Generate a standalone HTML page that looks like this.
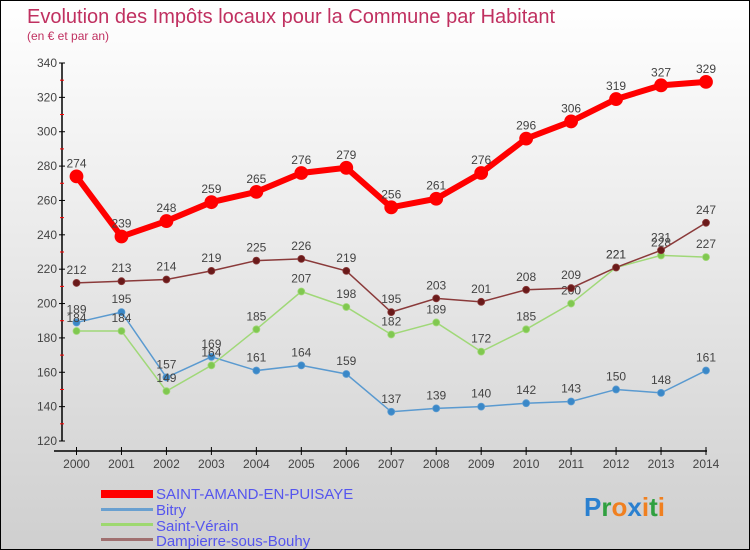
<!DOCTYPE html>
<html><head><meta charset="utf-8"><style>
body{margin:0}
#c{position:relative;width:750px;height:550px;box-sizing:border-box;border:1px solid #000;background:linear-gradient(#ffffff,#cfcfcf);font-family:"Liberation Sans",sans-serif;overflow:hidden}
</style></head><body>
<div id="c">
<svg id="s" width="750" height="550" style="position:absolute;left:0;top:0">
<text x="26" y="22" font-size="20" fill="#c03060">Evolution des Impôts locaux pour la Commune par Habitant</text>
<text x="26" y="39" font-size="12" fill="#c03060">(en € et par an)</text>
<g id="axes"></g><g id="series"></g>
<g>
<rect x="100" y="489" width="52" height="8" fill="#f00"/>
<text x="155" y="498" font-size="15" fill="#5555ee">SAINT-AMAND-EN-PUISAYE</text>
<rect x="100" y="507" width="52" height="3" fill="#6aa0d0"/>
<text x="155" y="514" font-size="15" fill="#5555ee">Bitry</text>
<rect x="100" y="522" width="52" height="3" fill="#9ed870"/>
<text x="155" y="530" font-size="15" fill="#5555ee">Saint-Vérain</text>
<rect x="100" y="537" width="52" height="3" fill="#a07070"/>
<text x="155" y="545" font-size="15" fill="#5555ee">Dampierre-sous-Bouhy</text>
</g>
<text x="583" y="515" font-size="26" font-weight="bold"><tspan fill="#2a80d0">P</tspan><tspan fill="#30a040">r</tspan><tspan fill="#f08020">o</tspan><tspan fill="#2a80d0">x</tspan><tspan fill="#f08020">i</tspan><tspan fill="#30a040">t</tspan><tspan fill="#f08020">i</tspan></text>
</svg>
</div>
<script>
const years=[2000,2001,2002,2003,2004,2005,2006,2007,2008,2009,2010,2011,2012,2013,2014];
const yTicks=[120,140,160,180,200,220,240,260,280,300,320,340];
const saintAmand=[274,239,248,259,265,276,279,256,261,276,296,306,319,327,329];
const bitry=[189,195,157,169,161,164,159,137,139,140,142,143,150,148,161];
const saintVerain=[184,184,149,164,185,207,198,182,189,172,185,200,221,228,227];
const dampierre=[212,213,214,219,225,226,219,195,203,201,208,209,221,231,247];
const NS='http://www.w3.org/2000/svg';
const X=i=>75.5+i*(705-75.5)/14;
const Y=v=>440-(v-120)*(378/220);
function mk(t,a,p){const e=document.createElementNS(NS,t);for(const k in a)e.setAttribute(k,a[k]);p.appendChild(e);return e;}
const ax=document.getElementById('axes');
let e=mk('line',{x1:61,y1:Y(340),x2:61,y2:Y(120),stroke:'#000','stroke-width':1.5},ax);

e=mk('line',{x1:53,y1:450,x2:706,y2:450,stroke:'#000','stroke-width':1.5},ax);

yTicks.forEach((v,i)=>{
 mk('line',{x1:58,y1:Y(v),x2:64,y2:Y(v),stroke:'#000'},ax);
 if(i<yTicks.length-1)mk('line',{x1:59,y1:Y(v+10),x2:63,y2:Y(v+10),stroke:'#f00'},ax);
 const t=mk('text',{x:56,y:Y(v)+4,'font-size':12,fill:'#444','text-anchor':'end'},ax);t.textContent=v;
 
});
years.forEach((y,i)=>{
 mk('line',{x1:X(i),y1:446,x2:X(i),y2:454,stroke:'#000'},ax);
 const t=mk('text',{x:X(i),y:467,'font-size':12,fill:'#444','text-anchor':'middle'},ax);t.textContent=y;
 
});
const sg=document.getElementById('series');
function series(name,data,color,dot,w,r){
 const g=mk('g',{},sg);
 const l=mk('polyline',{points:data.map((v,i)=>X(i)+','+Y(v)).join(' '),fill:'none',stroke:color,'stroke-width':w},g);
 
 data.forEach((v,i)=>{
  const c=mk('circle',{cx:X(i),cy:Y(v),r:r,fill:dot,stroke:color,'stroke-width':0.8},g);
  
  const t=mk('text',{x:X(i),y:Y(v)-9,'font-size':12,fill:'#444','text-anchor':'middle'},g);t.textContent=v;
  
 });
}
series('bitry',bitry,'#5a9ad0','#3a88c8',1.5,3.5);
series('saint-verain',saintVerain,'#a0d878','#80c850',1.5,3.5);
series('dampierre',dampierre,'#8a3a3a','#6a1a1a',1.5,3.5);
series('saint-amand',saintAmand,'#f00','#f00',6,6.5);
</script>
</body></html>
